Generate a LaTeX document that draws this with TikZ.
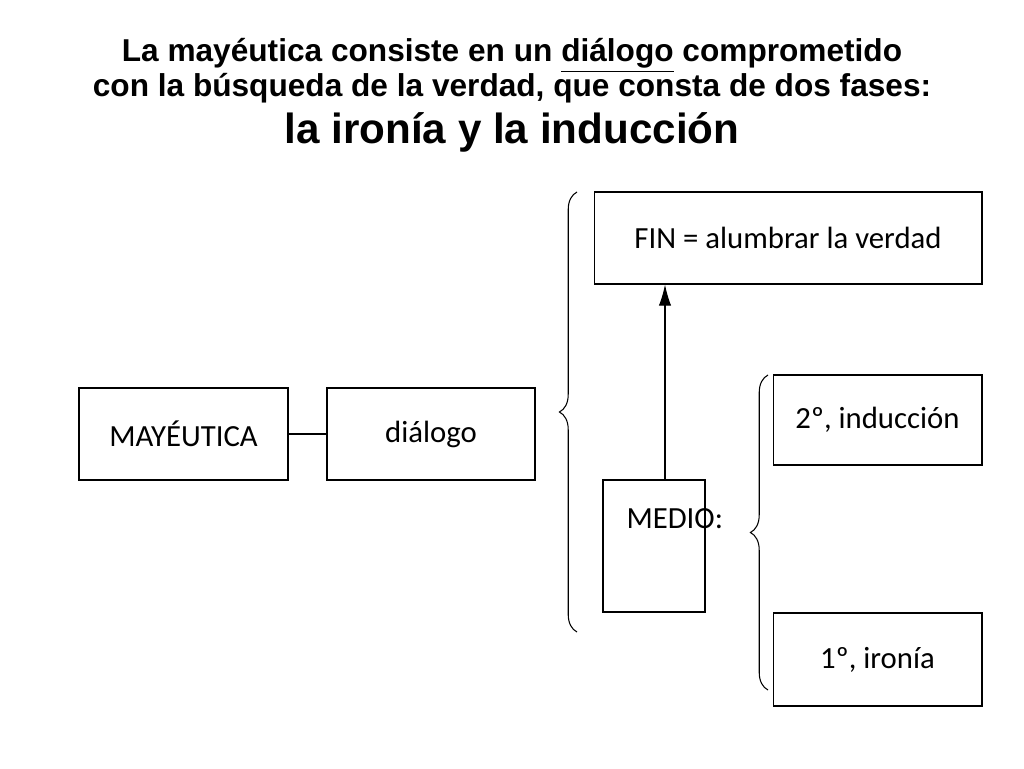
\documentclass[tikz,border=0pt]{standalone}
\usepackage{fontspec}
\setmainfont{Liberation Sans}
\newfontfamily\boxfont{Carlito}
\usetikzlibrary{positioning,decorations.pathreplacing,arrows.meta}
\begin{document}
\begin{tikzpicture}[x=0.02cm,y=-0.02cm]
\tikzset{framebox/.style={
rectangle,draw,black,semithick,
inner sep=0pt,
font=\boxfont\fontsize{17.5}{21}\selectfont,
align=center}}
\tikzset{bracket/.style={
decorate,decoration={brace,amplitude=10pt},semithick}}

\useasboundingbox (0,0) rectangle (1024,768);

\node[font=\bfseries\fontsize{18}{19}\selectfont,align=center,name=title]
at (512,71)
{La mayéutica consiste en un \underline{diálogo} comprometido\\
con la búsqueda de la verdad, que consta de dos fases:};
\node[font=\bfseries\fontsize{24}{26}\selectfont,name=subtitle]
at (512,132) {la ironía y la inducción};

\node[framebox,minimum width=4.18cm,minimum height=1.84cm,name=mayeutica]
at (183.5,434) {MAYÉUTICA};
\node[framebox,minimum width=4.16cm,minimum height=1.84cm,name=dialogo]
at (431,434) {diálogo};
\node[framebox,minimum width=7.76cm,minimum height=1.84cm,name=fin]
at (788,238) {FIN = alumbrar la verdad};
\node[framebox,minimum width=2.04cm,minimum height=2.64cm,name=medio]
at (654,546) {};
\node[framebox,draw=none,anchor=north west,name=mediotext]
at (626,508) {MEDIO:};
\node[framebox,minimum width=4.18cm,minimum height=1.8cm,name=induccion]
at (877.5,420) {2º, inducción};
\node[framebox,minimum width=4.18cm,minimum height=1.86cm,name=ironia]
at (877.5,659.5) {1º, ironía};

\draw[semithick] (mayeutica) -- (dialogo);
\draw[semithick,-{Latex[length=12pt,width=7pt]}] (medio.north-|665,0) -- (fin.south-|665,0);

\coordinate (bigbot) at (577,632);
\coordinate (bigtop) at (577,192);
\coordinate (smallbot) at (768,690);
\coordinate (smalltop) at (768,375);
\draw[bracket] (bigbot) -- (bigtop);
\draw[bracket] (smallbot) -- (smalltop);

\end{tikzpicture}
\end{document}
